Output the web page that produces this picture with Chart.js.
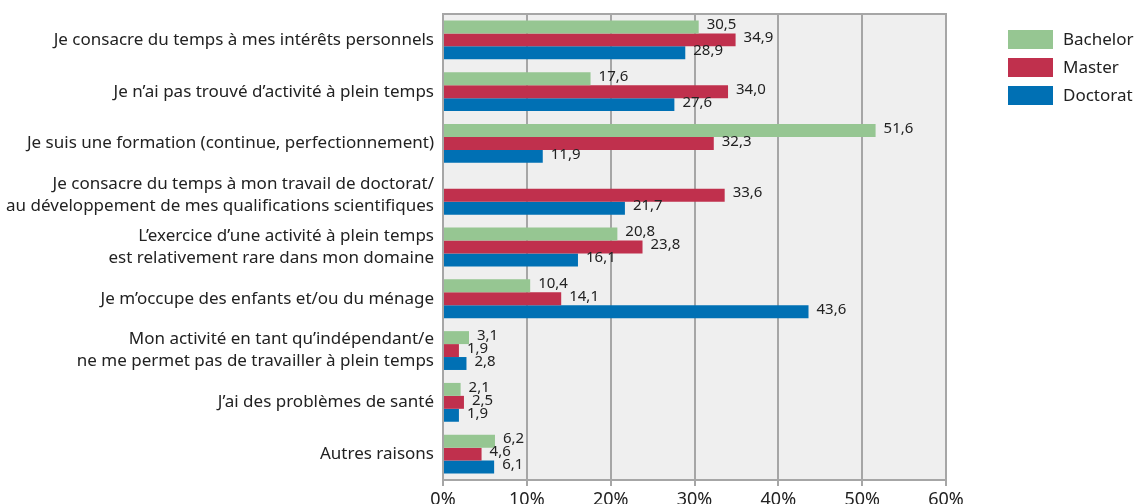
<!DOCTYPE html>
<html>
<head>
<meta charset="utf-8">
<script src="https://cdn.jsdelivr.net/npm/chart.js@4"></script>
<style>
  html, body { margin: 0; padding: 0; background: #fff; }
  #wrap { width: 1134px; height: 504px; }
</style>
</head>
<body>
<div id="wrap"><canvas id="graphique"></canvas></div>
<script>
var categories = [
    'Je consacre du temps à mes intérêts personnels',
    'Je n’ai pas trouvé d’activité à plein temps',
    'Je suis une formation (continue, perfectionnement)',
    ['Je consacre du temps à mon travail de doctorat/', 'au développement de mes qualifications scientifiques'],
    ['L’exercice d’une activité à plein temps', 'est relativement rare dans mon domaine'],
    'Je m’occupe des enfants et/ou du ménage',
    ['Mon activité en tant qu’indépendant/e', 'ne me permet pas de travailler à plein temps'],
    'J’ai des problèmes de santé',
    'Autres raisons'
];
var bachelor = [30.5, 17.6, 51.6, null, 20.8, 10.4, 3.1, 2.1, 6.2];
var master = [34.9, 34.0, 32.3, 33.6, 23.8, 14.1, 1.9, 2.5, 4.6];
var doctorat = [28.9, 27.6, 11.9, 21.7, 16.1, 43.6, 2.8, 1.9, 6.1];
var seriesNames = ['Bachelor', 'Master', 'Doctorat'];
var couleurs = ['#96c692', '#c0304d', '#0070b4'];

var police = '"Noto Sans", "Open Sans", sans-serif';

// fond gris + cadre de la zone de tracé
var fondPlugin = {
    id: 'fond',
    beforeDraw: function (chart) {
        var a = chart.chartArea, ctx = chart.ctx;
        ctx.save();
        ctx.fillStyle = '#efefef';
        ctx.fillRect(a.left, a.top, a.right - a.left, a.bottom - a.top);
        ctx.restore();
    },
    afterDraw: function (chart) {
        var a = chart.chartArea, ctx = chart.ctx;
        ctx.save();
        ctx.strokeStyle = '#a6a6a6';
        ctx.lineWidth = 2;
        ctx.strokeRect(a.left, a.top, a.right - a.left, a.bottom - a.top);
        ctx.restore();
    }
};

// valeurs à droite des barres
var valeursPlugin = {
    id: 'valeurs',
    afterDatasetsDraw: function (chart) {
        var ctx = chart.ctx;
        ctx.save();
        ctx.font = '15px ' + police;
        ctx.fillStyle = '#222';
        ctx.textBaseline = 'middle';
        chart.data.datasets.forEach(function (ds, i) {
            chart.getDatasetMeta(i).data.forEach(function (bar, j) {
                var v = ds.data[j];
                if (v === null || v === undefined) return;
                ctx.fillText(v.toFixed(1).replace('.', ','), bar.x + 8, bar.y - 2);
            });
        });
        ctx.restore();
    }
};

// légende dessinée à droite
var legendePlugin = {
    id: 'legende',
    afterDraw: function (chart) {
        var ctx = chart.ctx;
        ctx.save();
        ctx.font = '17px ' + police;
        ctx.textBaseline = 'middle';
        seriesNames.forEach(function (nom, i) {
            var y = 30 + i * 28;
            ctx.fillStyle = couleurs[i];
            ctx.fillRect(1008, y, 45, 19);
            ctx.fillStyle = '#222';
            ctx.fillText(nom, 1063, y + 10);
        });
        ctx.restore();
    }
};

new Chart(document.getElementById('graphique').getContext('2d'), {
    type: 'bar',
    data: {
        labels: categories,
        datasets: [
            { label: seriesNames[0], data: bachelor, backgroundColor: couleurs[0] },
            { label: seriesNames[1], data: master, backgroundColor: couleurs[1] },
            { label: seriesNames[2], data: doctorat, backgroundColor: couleurs[2] }
        ]
    },
    options: {
        indexAxis: 'y',
        responsive: true,
        maintainAspectRatio: false,
        animation: false,
        layout: { padding: { top: 14, right: 188, bottom: -4, left: 0 } },
        datasets: { bar: { categoryPercentage: 0.75, barPercentage: 1.0 } },
        plugins: {
            legend: { display: false },
            tooltip: { enabled: false }
        },
        scales: {
            x: {
                min: 0,
                max: 60,
                afterFit: function (s) { s.height = 28; },
                ticks: {
                    stepSize: 10,
                    color: '#222',
                    font: { family: police, size: 18, lineHeight: 1 },
                    padding: 5,
                    callback: function (v) { return v + '%'; }
                },
                grid: { color: '#a6a6a6', lineWidth: 2, tickLength: 6 },
                border: { display: false }
            },
            y: {
                afterFit: function (s) {
                    s.width = 443;
                    s.paddingTop = 0;
                    s.paddingBottom = 0;
                },
                ticks: {
                    color: '#222',
                    font: { family: police, size: 17, lineHeight: 1.3 },
                    padding: 9
                },
                grid: { display: false, drawTicks: false },
                border: { display: false }
            }
        }
    },
    plugins: [fondPlugin, valeursPlugin, legendePlugin]
});
</script>
</body>
</html>
